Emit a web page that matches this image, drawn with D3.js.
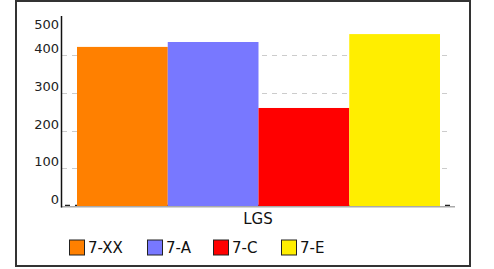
<!DOCTYPE html>
<html><head><meta charset="utf-8">
<script src="https://cdn.jsdelivr.net/npm/d3@7"></script>
<style>body{margin:0;background:#fff;}svg{display:block;font-family:"DejaVu Sans",sans-serif;}</style>
</head><body>
<script>
const categories = ["LGS"];
const seriesNames = ["7-XX", "7-A", "7-C", "7-E"];
const seriesValues = [422, 435, 260, 456];
const seriesColors = ["#ff8000", "#7878ff", "#ff0000", "#ffee00"];
const yTicks = [0, 100, 200, 300, 400, 500];

(function () {
const W = 494, H = 269;
const svg = d3.select("body").append("svg").attr("width", W).attr("height", H);

svg.append("rect").attr("x", 16).attr("y", 1).attr("width", 454).attr("height", 265)
  .attr("fill", "#fff").attr("stroke", "#333").attr("stroke-width", 2);

const mLeft = 61, mRight = 455, mTop = 17.5, mBottom = 206, axisTop = 16;
const y = d3.scaleLinear().domain([0, 500]).range([mBottom, mTop]);
const x0 = d3.scaleBand().domain(categories).range([mLeft, mRight]).paddingInner(0).paddingOuter(0.04);
const x1 = d3.scaleBand().domain(seriesNames).range([77 - mLeft, 440 - mLeft]);

// gridlines
svg.append("g").selectAll("line").data(yTicks.filter(d => d > 0 && d < 500)).join("line")
  .attr("x1", mLeft + 1).attr("x2", 452)
  .attr("y1", d => Math.round(y(d)) + 0.5).attr("y2", d => Math.round(y(d)) + 0.5)
  .attr("stroke", "#ccc").attr("stroke-width", 1).attr("stroke-dasharray", "5,5");

// zero gridline (dark dashed, mostly hidden behind bars)
svg.append("line").attr("x1", mLeft + 4).attr("x2", mRight).attr("y1", mBottom - 0.5).attr("y2", mBottom - 0.5)
  .attr("stroke", "#222").attr("stroke-width", 1.3).attr("stroke-dasharray", "5,5");

// bars
const g = svg.append("g");
categories.forEach(c => {
  g.selectAll("rect.bar").data(seriesValues).join("rect").attr("class", "bar")
    .attr("x", (d, i) => mLeft + x1(seriesNames[i]))
    .attr("width", x1.bandwidth())
    .attr("y", d => y(d))
    .attr("height", d => mBottom - y(d))
    .attr("fill", (d, i) => seriesColors[i]);
});

// x axis line
svg.append("line").attr("x1", mLeft).attr("x2", mRight).attr("y1", mBottom + 0.75).attr("y2", mBottom + 0.75)
  .attr("stroke", "#aaa").attr("stroke-width", 1.5);
// y axis line
svg.append("line").attr("x1", mLeft + 0.5).attr("x2", mLeft + 0.5).attr("y1", axisTop).attr("y2", mBottom + 1.5)
  .attr("stroke", "#111").attr("stroke-width", 1.5);

// y tick labels
const fs = 13;
svg.append("g").selectAll("text").data(yTicks).join("text")
  .attr("x", 59).attr("y", d => Math.max(y(d) - 2, axisTop + fs))
  .attr("text-anchor", "end").attr("font-size", fs).attr("fill", "#222")
  .text(d => d);

// x category label
svg.append("text").attr("x", x0("LGS") + x0.bandwidth() / 2).attr("y", 224)
  .attr("text-anchor", "middle").attr("font-size", 15).attr("fill", "#111").text(categories[0]);

// legend
const legX = [69, 147, 213, 281];
const leg = svg.append("g").selectAll("g").data(seriesNames).join("g")
  .attr("transform", (d, i) => `translate(${legX[i]},240)`);
leg.append("rect").attr("x", 0.5).attr("y", 0).attr("width", 15).attr("height", 15)
  .attr("fill", (d, i) => seriesColors[i]).attr("stroke", "#222").attr("stroke-width", 1);
leg.append("text").attr("x", 19).attr("y", 13).attr("font-size", 15).attr("fill", "#111").text(d => d);
})();
</script>
</body></html>
